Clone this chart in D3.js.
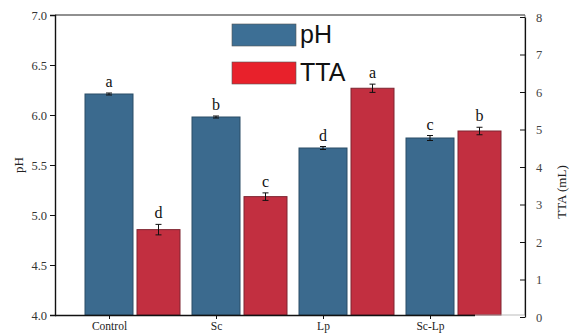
<!DOCTYPE html>
<html>
<head>
<meta charset="utf-8">
<script src="https://cdn.jsdelivr.net/npm/d3@7"></script>
<style>
  html, body { margin: 0; padding: 0; background: #fff; }
  svg { display: block; }
</style>
</head>
<body>
<svg id="chart" width="576" height="335"></svg>
<script>
// Treatments
const categories = ["Control", "Sc", "Lp", "Sc-Lp"];
// pH (left axis) and titratable acidity (right axis, mL)
const phValues  = [6.21, 5.98, 5.67, 5.77];
const phErrors  = [0.01, 0.01, 0.015, 0.025];
const phLetters = ["a", "b", "d", "c"];
const ttaValues  = [2.33, 3.21, 6.10, 4.96];
const ttaErrors  = [0.14, 0.10, 0.11, 0.10];
const ttaLetters = ["d", "c", "a", "b"];
const phTicks  = [4.0, 4.5, 5.0, 5.5, 6.0, 6.5, 7.0];
const ttaTicks = [0, 1, 2, 3, 4, 5, 6, 7, 8];

const svg = d3.select("#chart");
const serif = "'Liberation Serif', 'Times New Roman', serif";
const sans = "'Liberation Sans', Arial, sans-serif";

const plotL = 55, plotR = 525, plotT = 15, plotB = 315;
const blue = "#3b6a8e", red = "#c22f40";

const x = d3.scaleBand().domain(categories).range([78, 506]).padding(0);
const yL = d3.scaleLinear().domain([4, 7]).range([plotB, plotT]);
const yR = d3.scaleLinear().domain([0, 8]).range([317, 17]);

const blueOff = 7, blueW = 48, redOff = 59, redW = 43;

// bars
const g = svg.append("g");
g.selectAll("rect.ph").data(phValues).join("rect")
  .attr("class", "ph")
  .attr("x", (d, i) => x(categories[i]) + blueOff)
  .attr("y", d => yL(d))
  .attr("width", blueW)
  .attr("height", d => plotB - yL(d))
  .attr("fill", blue).attr("stroke", "#2a4c66").attr("stroke-width", 1);

g.selectAll("rect.tta").data(ttaValues).join("rect")
  .attr("class", "tta")
  .attr("x", (d, i) => x(categories[i]) + redOff)
  .attr("y", d => yR(d))
  .attr("width", redW)
  .attr("height", d => plotB - yR(d))
  .attr("fill", red).attr("stroke", "#7e2430").attr("stroke-width", 1);

// error bars
function errorBars(vals, errs, scale, off, w) {
  vals.forEach((v, i) => {
    const cx = x(categories[i]) + off + w / 2;
    const y1 = scale(v + errs[i]), y2 = scale(v - errs[i]);
    const eg = g.append("g").attr("stroke", "#111").attr("stroke-width", 1);
    eg.append("line").attr("x1", cx).attr("x2", cx).attr("y1", y1).attr("y2", y2);
    eg.append("line").attr("x1", cx - 3).attr("x2", cx + 3).attr("y1", y1).attr("y2", y1);
    eg.append("line").attr("x1", cx - 3).attr("x2", cx + 3).attr("y1", y2).attr("y2", y2);
  });
}
errorBars(phValues, phErrors, yL, blueOff, blueW);
errorBars(ttaValues, ttaErrors, yR, redOff, redW);

// significance letters
function letters(vals, errs, lets, scale, off, w) {
  g.selectAll(null).data(vals).join("text")
    .attr("x", (d, i) => x(categories[i]) + off + w / 2)
    .attr("y", (d, i) => scale(d + errs[i]) - 6)
    .attr("text-anchor", "middle")
    .attr("font-family", serif).attr("font-size", 16).attr("fill", "#111")
    .text((d, i) => lets[i]);
}
letters(phValues, phErrors, phLetters, yL, blueOff, blueW);
letters(ttaValues, ttaErrors, ttaLetters, yR, redOff, redW);

// frame
svg.append("line").attr("x1", plotL).attr("x2", plotR).attr("y1", plotT).attr("y2", plotT)
  .attr("stroke", "#222").attr("stroke-width", 1.2);
svg.append("line").attr("x1", plotR).attr("x2", plotR).attr("y1", plotT).attr("y2", plotB)
  .attr("stroke", "#666").attr("stroke-width", 0.8);
svg.append("line").attr("x1", 475).attr("x2", plotR).attr("y1", plotB).attr("y2", plotB)
  .attr("stroke", "#aaa").attr("stroke-width", 0.8);

// left axis
const axL = svg.append("g").attr("transform", `translate(${plotL},0)`)
  .call(d3.axisLeft(yL).tickValues(phTicks).tickFormat(d3.format(".1f")).tickSize(5).tickPadding(3));
axL.select(".domain").attr("stroke", "#111").attr("stroke-width", 1.4);
axL.selectAll(".tick line").attr("stroke", "#111");
axL.selectAll("text").attr("font-family", serif).attr("font-size", 12.5).attr("fill", "#333");

// right axis (ticks inward)
const axR = svg.append("g").attr("transform", `translate(${plotR},0)`)
  .call(d3.axisRight(yR).tickValues(ttaTicks).tickFormat(d3.format("d")).tickSizeInner(-5).tickSizeOuter(0).tickPadding(11));
axR.select(".domain").attr("stroke", "#111").attr("stroke-width", 1.2);
axR.selectAll(".tick line").attr("stroke", "#111");
axR.selectAll("text").attr("font-family", serif).attr("font-size", 12.5).attr("fill", "#444");

// bottom axis with ticks under the pH bars
const xTick = d3.scalePoint().domain(categories)
  .range([x(categories[0]) + blueOff + blueW / 2, x(categories[3]) + blueOff + blueW / 2]);
const axB = svg.append("g").attr("transform", `translate(0,${plotB})`)
  .call(d3.axisBottom(xTick).tickSize(4).tickSizeOuter(0).tickPadding(3));
axB.select(".domain").attr("d", `M${plotL},0.5H475`).attr("stroke", "#111").attr("stroke-width", 1.6);
axB.selectAll(".tick line").attr("stroke", "#111");
axB.selectAll("text").attr("font-family", serif).attr("font-size", 11.5).attr("fill", "#222");

// axis titles
svg.append("text").attr("transform", "translate(23,165) rotate(-90)")
  .attr("text-anchor", "middle").attr("font-family", serif).attr("font-size", 13).attr("fill", "#222")
  .text("pH");
svg.append("text").attr("transform", "translate(566,192) rotate(-90)")
  .attr("text-anchor", "middle").attr("font-family", serif).attr("font-size", 13).attr("fill", "#222")
  .text("TTA (mL)");

// legend
const legend = [
  { label: "pH", color: "#3d6f95", y: 24 },
  { label: "TTA", color: "#e8212b", y: 62 }
];
legend.forEach(l => {
  svg.append("rect").attr("x", 232).attr("y", l.y).attr("width", 64).attr("height", 22)
    .attr("fill", l.color).attr("stroke", "#555").attr("stroke-width", 0.6);
  svg.append("text").attr("x", 300).attr("y", l.y + 19)
    .attr("font-family", sans).attr("font-size", 25).attr("fill", "#111").text(l.label);
});
</script>
</body>
</html>
